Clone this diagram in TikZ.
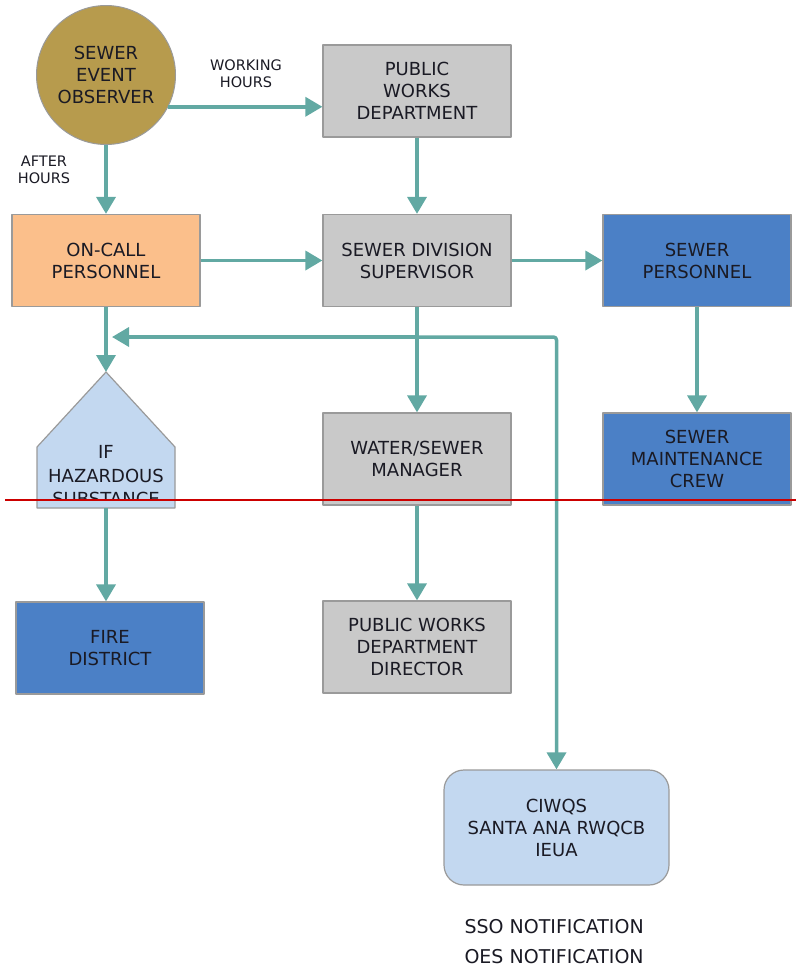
\documentclass[tikz,border=0pt]{standalone}
\usepackage{fontspec}
\setmainfont{DejaVu Sans}
\usetikzlibrary{arrows.meta}
\definecolor{flowc}{HTML}{62A9A3}
\definecolor{goldc}{HTML}{B79B4D}
\definecolor{peachc}{HTML}{FBBF8B}
\definecolor{greyc}{HTML}{C9C9C9}
\definecolor{bluec}{HTML}{4B80C6}
\definecolor{paleblue}{HTML}{C3D8F0}
\definecolor{boxline}{HTML}{9A9A9A}
\definecolor{ink}{HTML}{1A1A24}
\begin{document}
\begin{tikzpicture}[x=1pt, y=-1pt, font=\fontsize{18}{22}\selectfont, line join=round,
  >={Triangle[length=17pt,width=19pt]},
  box/.style={draw=boxline, line width=1.2pt, minimum width=188pt, minimum height=92pt, inner sep=0pt, align=center, text=ink},
  greybox/.style={box, fill=greyc},
  bluebox/.style={box, fill=bluec},
  peachbox/.style={box, fill=peachc},
  flow/.style={draw=flowc, line width=3.5pt, ->},
  lbl/.style={font=\fontsize{14.5}{17}\selectfont, align=center, text=ink}]
\useasboundingbox (0,0) rectangle (796,972);
% boxes
\node[circle, draw=boxline, line width=1pt, fill=goldc, minimum size=139pt, inner sep=0pt, align=center, text=ink] (obs) at (106,75) {SEWER\\EVENT\\OBSERVER};
\node[greybox] (pwd) at (417,91) {PUBLIC\\WORKS\\DEPARTMENT};
\node[peachbox] (oncall) at (106,260.5) {ON-CALL\\PERSONNEL};
\node[greybox] (sup) at (417,260.5) {SEWER DIVISION\\SUPERVISOR};
\node[bluebox] (pers) at (697,260.5) {SEWER\\PERSONNEL};
\node[greybox] (mgr) at (417,459) {WATER/SEWER\\MANAGER};
\node[bluebox] (crew) at (697,459) {SEWER\\MAINTENANCE\\CREW};
\node[bluebox] (fire) at (110,648) {FIRE\\DISTRICT};
\node[greybox] (dir) at (417,647) {PUBLIC WORKS\\DEPARTMENT\\DIRECTOR};
\node[box, fill=paleblue, minimum width=225pt, minimum height=115pt, rounded corners=20pt] (ciwqs) at (556.5,827.5) {CIWQS\\SANTA ANA RWQCB\\IEUA};
% hazard pentagon
\filldraw[fill=paleblue, draw=boxline, line width=1.2pt] (106,372) -- (175,447) -- (175,508) -- (37,508) -- (37,447) -- cycle;
\coordinate (haztop) at (106,372);
\node[minimum width=138pt, minimum height=136pt, inner sep=0pt] (haz) at (106,440) {};
\begin{scope}
\clip (0,0) rectangle (796,500);
\node[align=center, text=ink, font=\fontsize{18}{23.5}\selectfont] at (106,476) {IF\\HAZARDOUS\\SUBSTANCE};
\end{scope}
% labels
\node[lbl] (work) at (246,74) {WORKING\\HOURS};
\node[lbl] (after) at (44,170) {AFTER\\HOURS};
\node[align=left, anchor=west, text=ink, font=\fontsize{19}{30}\selectfont] (notes) at (461,942) {SSO NOTIFICATION\\OES NOTIFICATION};
% connectors
\draw[flow] (obs.-27) -- (obs.-27 -| pwd.west);
\draw[flow] (obs) -- (oncall);
\draw[flow] (pwd) -- (sup);
\draw[flow] (oncall) -- (sup);
\draw[flow] (sup) -- (pers);
\draw[flow] (pers) -- (crew);
\draw[flow] (sup) -- (mgr);
\draw[flow] (mgr) -- (dir);
\draw[flow] (oncall) -- (haztop);
\draw[flow] (haz.south) -- (haz.south |- fire.north);
\coordinate (j) at (417,337);
\coordinate (hazin) at (112,337);
\draw[flow] (j) -- (hazin);
\draw[flow, rounded corners=3pt] (j) -| (ciwqs.north);
% page mark
\draw[red!80!black, line width=1.3pt] (5,500) -- (796,500);
\end{tikzpicture}
\end{document}
